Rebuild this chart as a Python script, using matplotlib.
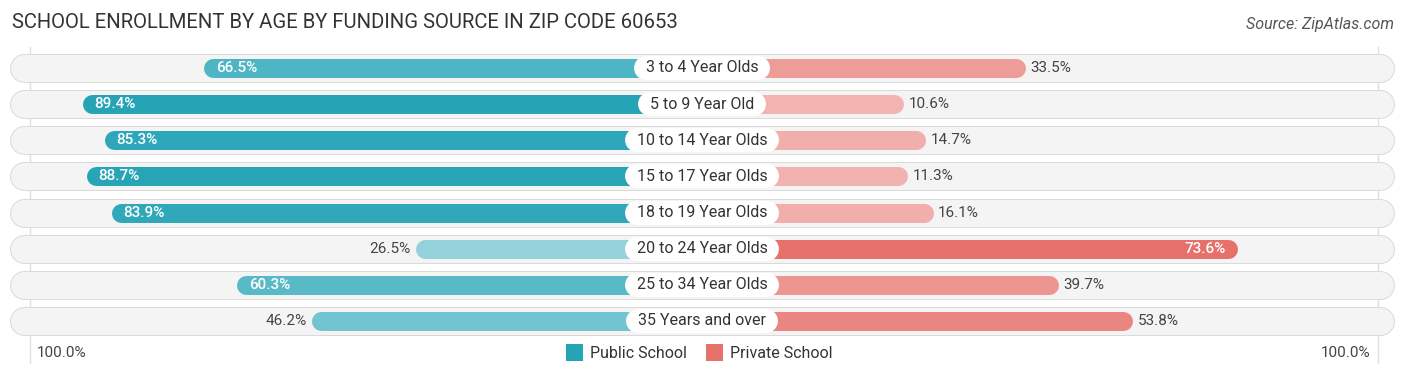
import matplotlib.pyplot as plt
import numpy as np
from matplotlib.colors import to_rgb

plt.rcParams['font.family'] = ['Roboto', 'DejaVu Sans']

# Données
categories = ["3 to 4 Year Olds", "5 to 9 Year Old", "10 to 14 Year Olds", "15 to 17 Year Olds",
              "18 to 19 Year Olds", "20 to 24 Year Olds", "25 to 34 Year Olds", "35 Years and over"]
public = [66.5, 89.4, 85.3, 88.7, 83.9, 26.5, 60.3, 46.2]
private = [33.5, 10.6, 14.7, 11.3, 16.1, 73.6, 39.7, 53.8]
series_names = ["Public School", "Private School"]

# Style
teal = '#25a4b6'
pink = '#e6716b'
PX_X = 5.3          # pixels par % sur l'axe x
PX_Y = 36.14        # pixels par ligne
OFFSET = 27.5       # zone cachée sous l'étiquette centrale (en %)
W, H = 1406, 377
CX, Y0 = 702, 68


def lighten(c, t):
    r = np.array(to_rgb(c))
    return tuple(r + (1 - r) * t)


def px(p):
    return p * 72 / 100  # pixels -> points (dpi 100)


fig = plt.figure(figsize=(W / 100, H / 100), dpi=100)
ax = fig.add_axes([0, 0, 1, 1])
ax.set_xlim(-CX / PX_X, (W - CX) / PX_X)
ax.set_ylim((H - Y0) / PX_Y, -Y0 / PX_Y)
ax.axis('off')
renderer = fig.canvas.get_renderer()

# Lignes verticales à 100 %
for xg in (-(OFFSET + 100) + 0.7, OFFSET + 100):
    ax.plot([xg, xg], [-0.58, 8.15], color='#e0e0e0', lw=1, zorder=0)

edge = (OFFSET + 100) + 0.4
for i, (cat, pub, pri) in enumerate(zip(categories, public, private)):
    # fond de la ligne
    ax.plot([-edge, edge], [i, i], color='#dadada', lw=px(29), solid_capstyle='round', zorder=1)
    ax.plot([-edge, edge], [i, i], color='#f4f4f4', lw=px(27), solid_capstyle='round', zorder=1)

    # barres
    cpub = lighten(teal, max(0, (90 - pub) / 125))
    cpri = lighten(pink, max(0, (74 - pri) / 135))
    r = 9.5 / PX_X
    ax.plot([-(OFFSET + pub) + r, 0], [i, i], color=cpub, lw=px(19), solid_capstyle='round', zorder=2)
    ax.plot([0, OFFSET + pri - r], [i, i], color=cpri, lw=px(19), solid_capstyle='round', zorder=2)

    # valeurs
    if pub > 55:
        ax.text(-(OFFSET + pub) + 12 / PX_X, i, f"{pub:.1f}%", color='white', fontsize=11,
                fontweight='medium', ha='left', va='center', zorder=4)
    else:
        ax.text(-(OFFSET + pub) - 5 / PX_X, i, f"{pub:.1f}%", color='#444444', fontsize=11,
                ha='right', va='center', zorder=4)
    if pri > 55:
        ax.text(OFFSET + pri - 12 / PX_X, i, f"{pri:.1f}%", color='white', fontsize=11,
                fontweight='medium', ha='right', va='center', zorder=4)
    else:
        ax.text(OFFSET + pri + 5 / PX_X, i, f"{pri:.1f}%", color='#444444', fontsize=11,
                ha='left', va='center', zorder=4)

    # étiquette centrale (pilule blanche)
    t = ax.text(0, i, cat, ha='center', va='center', fontsize=11.5, color='#333333', zorder=5)
    half = t.get_window_extent(renderer).width / 2 / PX_X
    ax.plot([-half, half], [i, i], color='white', lw=px(24), solid_capstyle='round', zorder=4)

# Titre et source
fig.text(12 / W, 1 - 22 / H, "SCHOOL ENROLLMENT BY AGE BY FUNDING SOURCE IN ZIP CODE 60653",
         fontsize=14.6, color='#333333', va='center', ha='left')
fig.text(1394 / W, 1 - 24 / H, "Source: ZipAtlas.com", fontsize=11.5, color='#555555',
         style='italic', va='center', ha='right')

# Bas : échelle et légende
yb = 1 - 353 / H
fig.text(37 / W, yb, "100.0%", fontsize=11, color='#444444', va='center', ha='left')
fig.text(1370 / W, yb, "100.0%", fontsize=11, color='#444444', va='center', ha='right')
for xs, col, name in [(566, teal, series_names[0]), (706, pink, series_names[1])]:
    fig.patches.append(plt.Rectangle((xs / W, yb - 8 / H), 17 / W, 17 / H, transform=fig.transFigure,
                                     fc=col, ec='none', figure=fig))
    fig.text((xs + 24) / W, yb, name, fontsize=11.5, color='#333333', va='center', ha='left')

fig.savefig('out.png', dpi=100)
